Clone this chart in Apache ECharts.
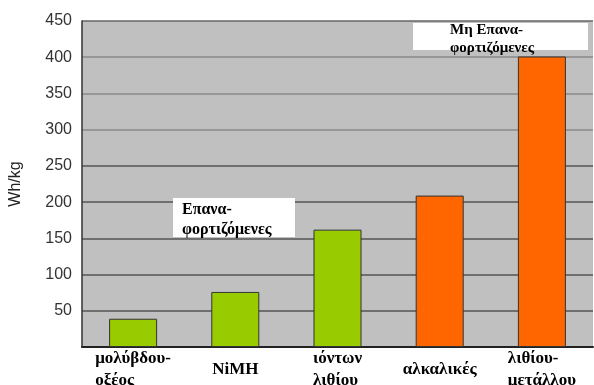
<!DOCTYPE html>
<html><head><meta charset="utf-8">
<script src="https://cdn.jsdelivr.net/npm/echarts@6/dist/echarts.min.js"></script>
<style>html,body{margin:0;padding:0;background:#fff}#c{width:594px;height:385px}</style>
</head><body><div id="c"></div>
<script>
const categories = ['μολύβδου-\nοξέος', 'NiMH', 'ιόντων\nλιθίου', 'αλκαλικές', 'λιθίου-\nμετάλλου'];
const values = [39, 76, 162, 209, 401];
const barColors = ['#99cc00', '#99cc00', '#99cc00', '#ff6600', '#ff6600'];
const yTicks = [50, 100, 150, 200, 250, 300, 350, 400, 450];
const notes = [
  { text: 'Επανα-\nφορτιζόμενες' },
  { text: 'Μη Επανα-\nφορτιζόμενες' }
];

const chart = echarts.init(document.getElementById('c'));
chart.setOption({
  animation: false,
  grid: { left: 82, right: 1, top: 21, bottom: 38, outerBoundsMode: 'none', containLabel: false,
          backgroundColor: '#c0c0c0', show: true, borderWidth: 0 },
  xAxis: {
    type: 'category', data: categories,
    axisLine: { lineStyle: { color: '#222', width: 2 } },
    axisTick: { show: false },
    axisLabel: {
      interval: 0, color: '#000', margin: 23, verticalAlign: 'middle',
      formatter: v => v.split('\n').map(s => '{a|' + s + '}').join('\n'),
      rich: { a: { fontFamily: 'Liberation Serif', fontWeight: 'bold', fontSize: 17, color: '#000', lineHeight: 22, align: 'left' } }
    }
  },
  yAxis: {
    type: 'value', min: 0, max: 450, interval: 50,
    name: 'Wh/kg', nameLocation: 'middle', nameGap: 58, nameRotate: 90,
    nameTextStyle: { fontFamily: 'Liberation Sans', fontSize: 16, color: '#222' },
    axisLine: { show: true, lineStyle: { color: '#333', width: 1.5 } },
    axisTick: { show: false },
    axisLabel: {
      fontFamily: 'Liberation Sans', fontSize: 16, color: '#333', margin: 10,
      formatter: v => (yTicks.indexOf(v) >= 0 ? String(v) : '')
    },
    splitLine: { lineStyle: { width: 1.5, color: ['#333', '#555', '#555', '#555', '#555', '#555', '#8a8a8a', '#8a8a8a', '#8a8a8a', '#666'] } }
  },
  series: [{
    type: 'bar', barWidth: 48,
    data: values.map((v, i) => ({ value: v, itemStyle: { color: barColors[i] } })),
    itemStyle: { borderColor: '#333', borderWidth: 1 }
  }],
  graphic: [
    { type: 'rect', shape: { x: 173, y: 198, width: 122, height: 39 }, style: { fill: '#fff' }, z: 10 },
    { type: 'text', left: 182, top: 200, z: 11,
      style: { text: notes[0].text, font: 'bold 16px "Liberation Serif"', fill: '#000', lineHeight: 20 } },
    { type: 'rect', shape: { x: 413, y: 23, width: 175, height: 27 }, style: { fill: '#fff' }, z: 10 },
    { type: 'text', left: 450, top: 21, z: 11,
      style: { text: notes[1].text, font: 'bold 15px "Liberation Serif"', fill: '#000', lineHeight: 18 } }
  ]
});
</script></body></html>
